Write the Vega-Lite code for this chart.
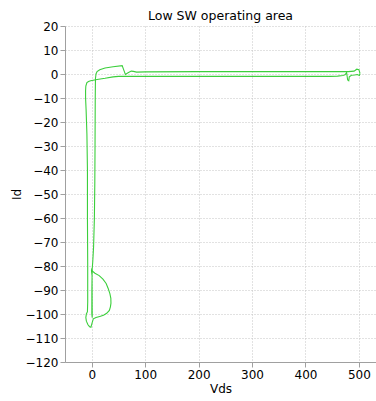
{
  "$schema": "https://vega.github.io/schema/vega-lite/v6.json",
  "width": 311,
  "height": 336,
  "autosize": {"type": "none"},
  "padding": {"left": 65, "top": 26, "right": 0, "bottom": 39},
  "background": "white",
  "title": {"text": "Low SW operating area", "font": "DejaVu Sans", "fontSize": 12.5, "fontWeight": "normal", "color": "black", "anchor": "middle", "offset": -2},
  "config": {
    "view": {"stroke": null},
    "axis": {
      "labelFont": "DejaVu Sans", "labelFontSize": 12, "labelColor": "black",
      "titleFont": "DejaVu Sans", "titleFontSize": 12, "titleFontWeight": "normal", "titleColor": "black",
      "domainColor": "#a0a0a0", "tickColor": "#a0a0a0", "tickSize": 5,
      "gridColor": "#c4c4c4", "gridDash": [1, 2], "gridWidth": 1
    }
  },
  "data": {"values": [
    {"i": 1, "vds": 502, "id": 0.3},
    {"i": 2, "vds": 500, "id": 1.8},
    {"i": 3, "vds": 496, "id": 2.0},
    {"i": 4, "vds": 491, "id": 1.2},
    {"i": 5, "vds": 480, "id": 1.0},
    {"i": 6, "vds": 400, "id": 1.0},
    {"i": 7, "vds": 300, "id": 1.0},
    {"i": 8, "vds": 200, "id": 1.0},
    {"i": 9, "vds": 100, "id": 0.9},
    {"i": 10, "vds": 84, "id": 0.8},
    {"i": 11, "vds": 78, "id": 1.1},
    {"i": 12, "vds": 74, "id": 1.2},
    {"i": 13, "vds": 68, "id": 0.5},
    {"i": 14, "vds": 63, "id": -0.2},
    {"i": 15, "vds": 57, "id": 3.5},
    {"i": 16, "vds": 40, "id": 3.0},
    {"i": 17, "vds": 25, "id": 2.5},
    {"i": 18, "vds": 15, "id": 1.8},
    {"i": 19, "vds": 10, "id": 1.0},
    {"i": 20, "vds": 8, "id": 0},
    {"i": 21, "vds": 7, "id": -2},
    {"i": 22, "vds": 6.6, "id": -10},
    {"i": 23, "vds": 6.2, "id": -30},
    {"i": 24, "vds": 5.8, "id": -45},
    {"i": 25, "vds": 5, "id": -60},
    {"i": 26, "vds": 3.5, "id": -72},
    {"i": 27, "vds": 2, "id": -78},
    {"i": 28, "vds": 0.8, "id": -81.5},
    {"i": 29, "vds": 0.3, "id": -90},
    {"i": 30, "vds": 0.2, "id": -100},
    {"i": 31, "vds": 1, "id": -101.5},
    {"i": 32, "vds": 0.8, "id": -95},
    {"i": 33, "vds": 0.6, "id": -84},
    {"i": 34, "vds": -0.5, "id": -82},
    {"i": 35, "vds": 0.2, "id": -81},
    {"i": 36, "vds": 1.5, "id": -82.2},
    {"i": 37, "vds": 6, "id": -83},
    {"i": 38, "vds": 14, "id": -84},
    {"i": 39, "vds": 21, "id": -85.5},
    {"i": 40, "vds": 27, "id": -87.3},
    {"i": 41, "vds": 31, "id": -89.5},
    {"i": 42, "vds": 34, "id": -91.5},
    {"i": 43, "vds": 35.8, "id": -93.5},
    {"i": 44, "vds": 36, "id": -95.5},
    {"i": 45, "vds": 35, "id": -97},
    {"i": 46, "vds": 33, "id": -98.5},
    {"i": 47, "vds": 28, "id": -99.7},
    {"i": 48, "vds": 22, "id": -100.5},
    {"i": 49, "vds": 15, "id": -101},
    {"i": 50, "vds": 8, "id": -101.5},
    {"i": 51, "vds": 3, "id": -102},
    {"i": 52, "vds": 1, "id": -103.5},
    {"i": 53, "vds": -1.5, "id": -105.5},
    {"i": 54, "vds": -4, "id": -105.3},
    {"i": 55, "vds": -7, "id": -104.5},
    {"i": 56, "vds": -10, "id": -103},
    {"i": 57, "vds": -11, "id": -101.5},
    {"i": 58, "vds": -10, "id": -100},
    {"i": 59, "vds": -8, "id": -99},
    {"i": 60, "vds": -7.5, "id": -95},
    {"i": 61, "vds": -7.5, "id": -80},
    {"i": 62, "vds": -8, "id": -60},
    {"i": 63, "vds": -8, "id": -40},
    {"i": 64, "vds": -9, "id": -25},
    {"i": 65, "vds": -10.5, "id": -15},
    {"i": 66, "vds": -11.5, "id": -10},
    {"i": 67, "vds": -11.5, "id": -7},
    {"i": 68, "vds": -11, "id": -5},
    {"i": 69, "vds": -9, "id": -3.6},
    {"i": 70, "vds": -6, "id": -3.1},
    {"i": 71, "vds": -2, "id": -2.8},
    {"i": 72, "vds": 10, "id": -2.3},
    {"i": 73, "vds": 25, "id": -1.8},
    {"i": 74, "vds": 40, "id": -1.2},
    {"i": 75, "vds": 50, "id": -1.0},
    {"i": 76, "vds": 100, "id": -1.0},
    {"i": 77, "vds": 200, "id": -1.0},
    {"i": 78, "vds": 300, "id": -1.0},
    {"i": 79, "vds": 400, "id": -1.0},
    {"i": 80, "vds": 446, "id": -1.0},
    {"i": 81, "vds": 460, "id": -0.9},
    {"i": 82, "vds": 470, "id": -0.6},
    {"i": 83, "vds": 474, "id": -0.3},
    {"i": 84, "vds": 477, "id": 0.6},
    {"i": 85, "vds": 479, "id": -2.5},
    {"i": 86, "vds": 481, "id": -2.8},
    {"i": 87, "vds": 482, "id": -1.2},
    {"i": 88, "vds": 486, "id": -0.5},
    {"i": 89, "vds": 492, "id": -0.4},
    {"i": 90, "vds": 497, "id": -0.2},
    {"i": 91, "vds": 501, "id": -0.6},
    {"i": 92, "vds": 502, "id": 0.3}
  ]},
  "mark": {"type": "line", "color": "#3ccf3c", "strokeWidth": 1.1, "clip": true},
  "encoding": {
    "x": {"field": "vds", "type": "quantitative", "title": "Vds",
          "scale": {"domain": [-50, 532], "nice": false, "zero": false},
          "axis": {"values": [0, 100, 200, 300, 400, 500], "titlePadding": 3}},
    "y": {"field": "id", "type": "quantitative", "title": "Id",
          "scale": {"domain": [-120, 20], "nice": false, "zero": false},
          "axis": {"values": [-120, -110, -100, -90, -80, -70, -60, -50, -40, -30, -20, -10, 0, 10, 20], "titlePadding": 2}},
    "order": {"field": "i", "type": "quantitative"}
  }
}
